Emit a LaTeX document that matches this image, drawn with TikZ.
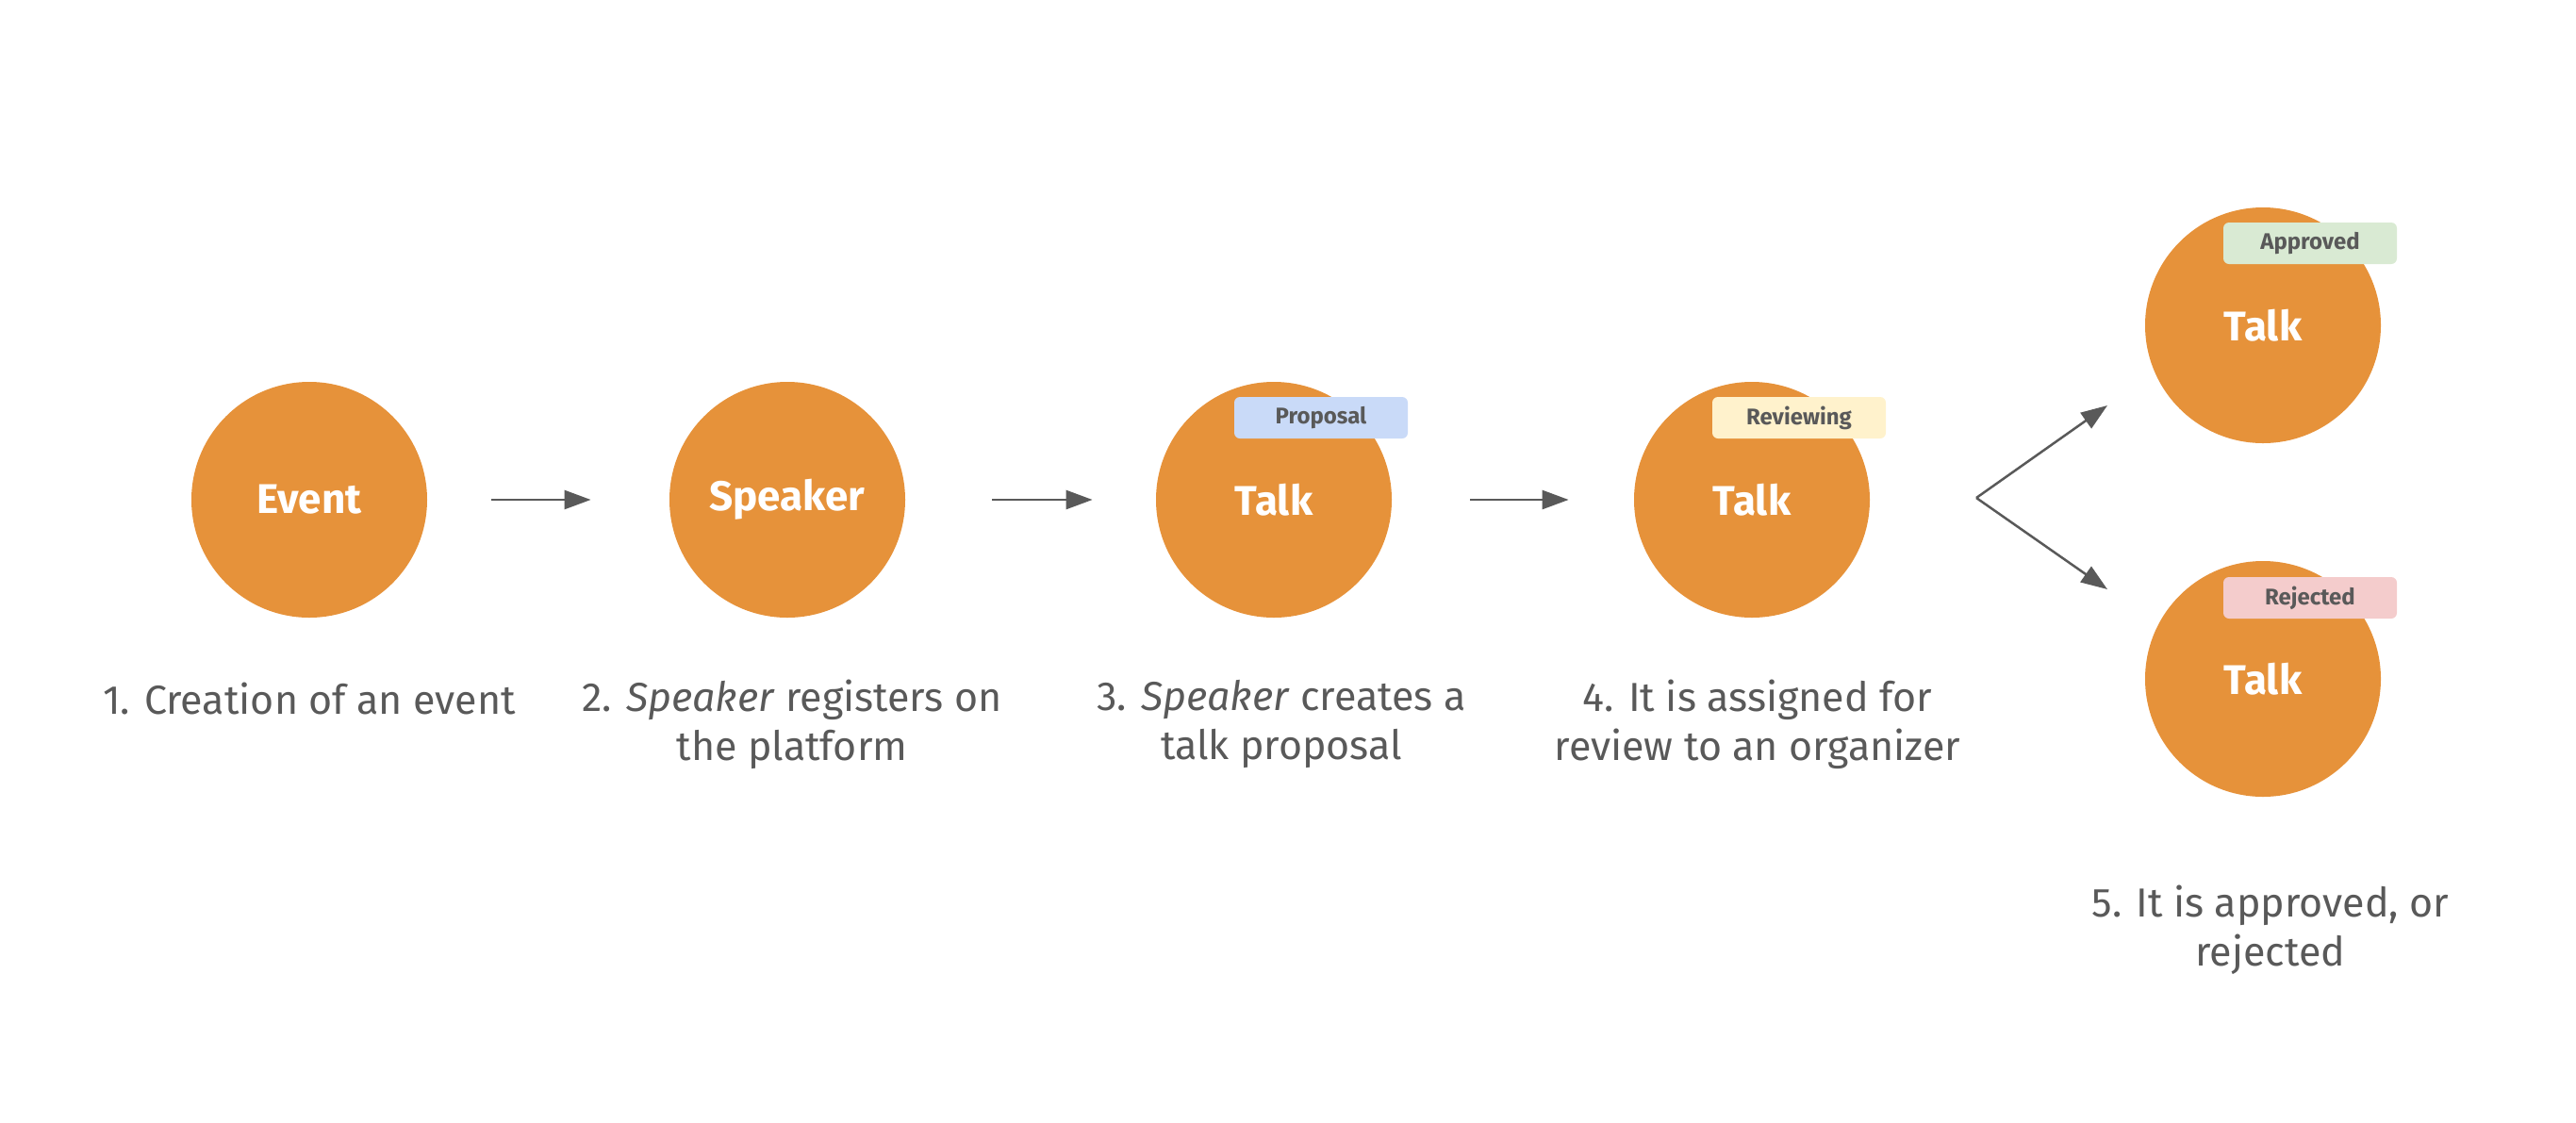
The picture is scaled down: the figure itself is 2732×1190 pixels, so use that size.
\documentclass[tikz,border=0pt]{standalone}
\usepackage{fontspec}
\setmainfont{Fira Sans}
\usetikzlibrary{arrows.meta, calc}
\definecolor{myorange}{RGB}{230,146,58}
\definecolor{mygray}{RGB}{89,89,89}
\definecolor{tagblue}{RGB}{201,218,248}
\definecolor{tagyellow}{RGB}{255,242,204}
\definecolor{taggreen}{RGB}{217,234,211}
\definecolor{tagred}{RGB}{244,204,204}
\tikzset{
  entity/.style={circle, fill=myorange, minimum size=125pt, inner sep=0pt,
    text=white, font=\fontsize{22}{26}\selectfont\bfseries},
  badge/.style={rectangle, rounded corners=3pt, minimum width=92pt,
    minimum height=22pt, inner sep=0pt, text=mygray,
    font=\fontsize{12}{14}\selectfont\bfseries},
  caption/.style={align=center, text=mygray, font=\fontsize{21.5}{26}\selectfont},
  arrow/.style={-{Triangle[length=14pt, width=10pt]}, line width=1.25pt, color=mygray}
}

\begin{document}
\begin{tikzpicture}[x=0.5pt, y=-0.5pt]
  \useasboundingbox (0,0) rectangle (2732,1190);

  % Main entities
  \node[entity] (event) at (328,530) {Event};
  \node[entity] (speaker) at (835,530) {Speaker};
  \node[entity] (talk) at (1351,530) {Talk};
  \node[entity] (review) at (1858,530) {Talk};
  \node[entity] (approved) at (2400,345) {Talk};
  \node[entity] (rejected) at (2400,720) {Talk};

  % Status badges
  \node[badge, fill=tagblue] (proposaltag) at ($(talk)+(50,-87)$) {Proposal};
  \node[badge, fill=tagyellow] (reviewtag) at ($(review)+(50,-87)$) {Reviewing};
  \node[badge, fill=taggreen] (approvedtag) at ($(approved)+(50,-87)$) {Approved};
  \node[badge, fill=tagred] (rejectedtag) at ($(rejected)+(50,-86)$) {Rejected};

  % Steps
  \draw[arrow, shorten <=34pt, shorten >=41.5pt] (event) -- (speaker);
  \draw[arrow, shorten <=46pt, shorten >=33.5pt] (speaker) -- (talk);
  \draw[arrow, shorten <=41.5pt, shorten >=34.5pt] (talk) -- (review);

  % Fork to the two outcomes
  \coordinate (fork) at (2096,528);
  \coordinate (upend) at (2235,430);
  \coordinate (downend) at (2235,625);
  \draw[arrow] (fork) -- (upend);
  \draw[arrow] (fork) -- (downend);

  % Captions
  \node[caption] (cap1) at (328,741) {1. Creation of an event};
  \node[caption] (cap2) at (840,768) {2. \textit{Speaker} registers on\\the platform};
  \node[caption] (cap3) at (1359,768) {3. \textit{Speaker} creates a\\talk proposal};
  \node[caption] (cap4) at (1864,768) {4. It is assigned for\\review to an organizer};
  \node[caption] (cap5) at (2408,986) {5. It is approved, or\\rejected};
\end{tikzpicture}
\end{document}
